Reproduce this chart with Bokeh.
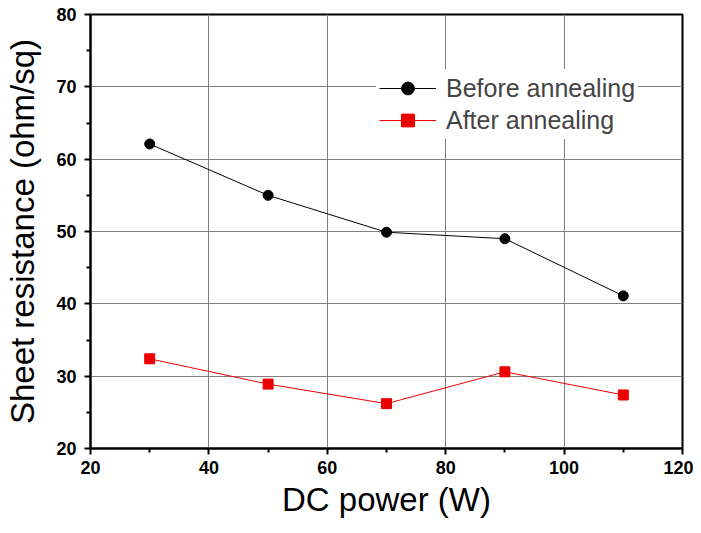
from bokeh.plotting import figure
from bokeh.embed import file_html
from bokeh.resources import INLINE
from bokeh.models import Legend, LegendItem, FixedTicker

power = [30, 50, 70, 90, 110]
before = [62.1, 55.0, 49.9, 49.0, 41.1]
after = [32.4, 28.9, 26.2, 30.6, 27.4]

x_ticks = [20, 40, 60, 80, 100, 120]
x_minor = [30, 50, 70, 90, 110]
y_ticks = [20, 30, 40, 50, 60, 70, 80]
y_minor = [25, 35, 45, 55, 65, 75]

FONT = "Liberation Sans"

p = figure(width=693, height=525, x_range=(20, 120), y_range=(20, 80),
           output_backend="svg", toolbar_location=None,
           min_border_left=90, min_border_right=11, min_border_top=14, min_border_bottom=77)

p.xaxis.axis_label = "DC power (W)"
p.yaxis.axis_label = "Sheet resistance (ohm/sq)"

for ax, ticks, minor in ((p.xaxis, x_ticks, x_minor), (p.yaxis, y_ticks, y_minor)):
    ax.ticker = FixedTicker(ticks=ticks, minor_ticks=minor)
    ax.axis_label_text_font = FONT
    ax.axis_label_text_font_style = "normal"
    ax.axis_label_text_font_size = "33px"
    ax.major_label_text_font = FONT
    ax.major_label_text_font_style = "bold"
    ax.major_label_text_font_size = "18px"
    ax.axis_line_width = 2
    ax.major_tick_line_width = 2
    ax.minor_tick_line_width = 2
    ax.major_tick_out = 6
    ax.major_tick_in = 0
    ax.minor_tick_out = 4
    ax.minor_tick_in = 0
    ax.axis_label_text_color = "black"
    ax.major_label_text_color = "black"

p.xaxis.major_label_standoff = 6
p.yaxis.major_label_standoff = 8
p.xaxis.axis_label_standoff = 4
p.yaxis.axis_label_standoff = 12

p.xgrid.ticker = FixedTicker(ticks=x_ticks)
p.ygrid.ticker = FixedTicker(ticks=y_ticks)
p.grid.grid_line_color = "#808080"
p.grid.grid_line_width = 1
p.grid.grid_line_alpha = 1

p.outline_line_color = "black"
p.outline_line_width = 2
p.outline_line_alpha = 1
p.background_fill_color = "white"
p.border_fill_color = "white"

l1 = p.line(power, before, line_color="black", line_width=1)
m1 = p.scatter(power, before, marker="circle", size=10, fill_color="black", line_color="black")
l2 = p.line(power, after, line_color="#ee0000", line_width=1)
m2 = p.scatter(power, after, marker="square", size=10, fill_color="#ee0000", line_color="#ee0000")

legend = Legend(items=[
    LegendItem(label="Before annealing", renderers=[l1, m1]),
    LegendItem(label="After annealing", renderers=[l2, m2]),
], location=(286, 309))
legend.label_text_font = FONT
legend.label_text_font_size = "25px"
legend.label_standoff = 10
legend.glyph_width = 57
legend.glyph_height = 32
legend.label_height = 32
legend.spacing = 0
legend.padding = 3
legend.margin = 0
legend.border_line_alpha = 0
legend.background_fill_color = "white"
legend.background_fill_alpha = 1
p.add_layout(legend, "center")

open("out.html", "w").write(file_html(p, INLINE))
